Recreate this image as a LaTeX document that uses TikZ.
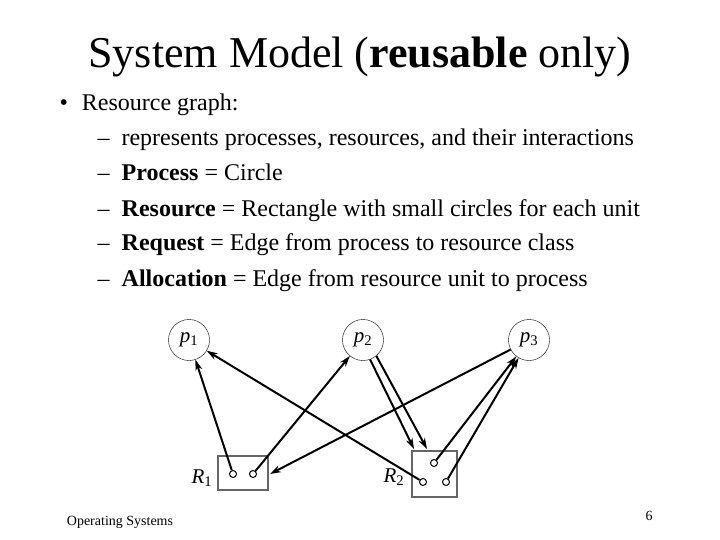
\documentclass[tikz,border=0pt]{standalone}
\usepackage{fontspec}
\setmainfont{Liberation Serif}
\usepackage{tikz}
\usetikzlibrary{arrows,arrows.meta,positioning}
\tikzset{>=latex}
\tikzset{proc/.style={circle,draw,minimum size=41pt,inner sep=0pt,font=\fontsize{21}{21}\selectfont},
  res/.style={draw,gray!80!black,line width=1.2pt,inner sep=0pt},
  unit/.style={circle,draw,line width=1pt,minimum size=7pt,inner sep=0pt},
  edge/.style={->,line width=2pt,>={Stealth[length=11pt,width=7pt]}},
  item/.style={anchor=base west,font=\fontsize{24}{24}\selectfont}}
\begin{document}
\begin{tikzpicture}[x=1pt,y=-1pt]
          \useasboundingbox (0,0) rectangle (720,540);
          \node[anchor=base] (title) at (360,68) {\fontsize{44}{44}\selectfont System Model (\textbf{reusable} only)};
          \node[item] (b1) at (56,111) {•\hspace{14pt}Resource graph:};
          \node[item] (l1) at (94,146) {–\hspace{12pt}represents processes, resources, and their interactions};
          \node[item] (l2) at (94,181) {–\hspace{12pt}\textbf{Process} = Circle};
          \node[item] (l3) at (94,216) {–\hspace{12pt}\textbf{Resource} = Rectangle with small circles for each unit};
          \node[item] (l4) at (94,251) {–\hspace{12pt}\textbf{Request} = Edge from process to resource class};
          \node[item] (l5) at (94,286) {–\hspace{12pt}\textbf{Allocation} = Edge from resource unit to process};
          % processes
          \node[proc] (p1) at (189,340) {\textit{p}\textsubscript{1}};
          \node[proc] (p2) at (363,340) {\textit{p}\textsubscript{2}};
          \node[proc] (p3) at (529,340) {\textit{p}\textsubscript{3}};
          % resources
          \draw[res] (218,456) rectangle (268,490);
          \draw[res] (412,451) rectangle (457,497);
          \coordinate (r1e) at (270,474);
          \coordinate (r2a) at (414,449);
          \coordinate (r2b) at (427,449);
          \node[unit] (u11) at (233,474) {};
          \node[unit] (u12) at (253,474) {};
          \node[unit] (u21) at (434,463) {};
          \node[unit] (u22) at (423,482) {};
          \node[unit] (u23) at (446,482) {};
          \node (R1) at (202,478) {\fontsize{21}{21}\selectfont \textit{R}\textsubscript{1}};
          \node (R2) at (394,477) {\fontsize{21}{21}\selectfont \textit{R}\textsubscript{2}};
          % edges
          \draw[edge] (u11) -- (p1);
          \draw[edge] (u12) -- (p2);
          \draw[edge] (u22) -- (p1);
          \draw[edge] (u21) -- (p3);
          \draw[edge] (u23) -- (p3);
          \draw[edge] (p3) -- (r1e);
          \draw[edge] (p2.-70) -- (r2a);
          \draw[edge] (p2.-50) -- (r2b);
          \node (foot) at (120,522) {\fontsize{14}{14}\selectfont Operating Systems};
          \node (num) at (649,516) {\fontsize{14}{14}\selectfont 6};
\end{tikzpicture}
\end{document}
